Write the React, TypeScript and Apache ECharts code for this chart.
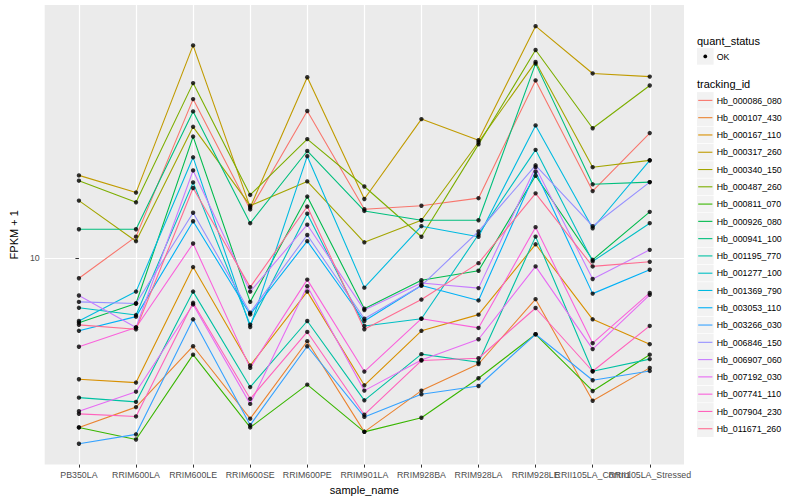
import React, { useEffect, useRef } from "react";
import * as echarts from "echarts";

const categories = [
  "PB350LA", "RRIM600LA", "RRIM600LE", "RRIM600SE", "RRIM600PE", "RRIM901LA",
  "RRIM928BA", "RRIM928LA", "RRIM928LE", "RRII105LA_Control", "RRII105LA_Stressed",
];

const Hb_000086_080 = [8.56, 11.81, 34.2, 14.57, 31.2, 14.6, 14.99, 15.9, 39.5, 16.8, 26.3];
const Hb_000107_430 = [2.7, 3.16, 5.06, 2.89, 5.26, 2.61, 3.59, 4.41, 7.28, 3.32, 4.28];
const Hb_000167_110 = [3.92, 3.82, 9.33, 4.36, 7.72, 3.74, 5.7, 6.46, 11.13, 6.23, 5.14];
const Hb_000317_260 = [18.96, 16.6, 51.8, 14.8, 40.5, 15.8, 29.3, 24.9, 60.1, 41.7, 40.7];
const Hb_000340_150 = [15.6, 11.4, 27.6, 15.0, 18.1, 11.3, 13.4, 24.5, 45.6, 20.2, 21.3];
const Hb_000487_260 = [18.2, 15.4, 38.7, 16.3, 25.1, 17.4, 11.8, 24.1, 50.0, 27.3, 38.0];
const Hb_000811_070 = [2.7, 2.46, 4.74, 2.7, 3.76, 2.61, 2.91, 3.95, 5.55, 3.58, 4.74];
const Hb_000926_080 = [6.07, 7.04, 25.6, 7.13, 16.1, 6.76, 8.43, 9.07, 18.9, 9.87, 14.3];
const Hb_000941_100 = [12.5, 12.5, 31.1, 13.1, 22.9, 14.4, 13.4, 13.4, 45.0, 17.7, 18.0];
const Hb_001195_770 = [3.4, 3.29, 7.72, 3.69, 6.15, 3.33, 4.76, 4.47, 11.81, 4.17, 4.58];
const Hb_001277_100 = [6.81, 6.44, 17.96, 5.98, 14.1, 5.92, 6.26, 12.0, 23.1, 9.75, 13.1];
const Hb_001369_790 = [6.15, 7.72, 21.8, 5.87, 22.0, 7.96, 12.8, 11.8, 27.9, 12.6, 21.3];
const Hb_003053_110 = [5.7, 6.36, 13.3, 6.47, 11.4, 6.15, 8.09, 7.21, 19.5, 7.6, 9.14];
const Hb_003266_030 = [2.38, 2.56, 6.23, 2.75, 5.06, 2.93, 3.49, 3.72, 5.55, 3.89, 4.18];
const Hb_006846_150 = [7.13, 7.04, 14.2, 6.56, 11.96, 6.26, 8.09, 12.3, 20.5, 12.8, 18.0];
const Hb_006907_060 = [7.49, 5.85, 19.7, 7.72, 12.95, 6.69, 8.25, 7.93, 20.2, 8.51, 10.66];
const Hb_007192_030 = [3.06, 3.56, 6.99, 3.24, 8.05, 3.59, 4.55, 5.34, 9.38, 4.95, 7.53];
const Hb_007741_110 = [5.04, 5.85, 11.2, 4.28, 8.47, 4.16, 6.26, 5.83, 12.7, 5.18, 7.64];
const Hb_007904_230 = [3.0, 2.94, 7.08, 3.37, 5.65, 2.98, 4.53, 4.61, 6.8, 4.17, 5.92];
const Hb_011671_260 = [5.97, 5.77, 17.2, 7.99, 14.9, 5.77, 7.26, 9.62, 16.5, 9.38, 9.72];

const trackingIds = [
  "Hb_000086_080", "Hb_000107_430", "Hb_000167_110", "Hb_000317_260", "Hb_000340_150",
  "Hb_000487_260", "Hb_000811_070", "Hb_000926_080", "Hb_000941_100", "Hb_001195_770",
  "Hb_001277_100", "Hb_001369_790", "Hb_003053_110", "Hb_003266_030", "Hb_006846_150",
  "Hb_006907_060", "Hb_007192_030", "Hb_007741_110", "Hb_007904_230", "Hb_011671_260",
];

const seriesValues = [
  Hb_000086_080, Hb_000107_430, Hb_000167_110, Hb_000317_260, Hb_000340_150,
  Hb_000487_260, Hb_000811_070, Hb_000926_080, Hb_000941_100, Hb_001195_770,
  Hb_001277_100, Hb_001369_790, Hb_003053_110, Hb_003266_030, Hb_006846_150,
  Hb_006907_060, Hb_007192_030, Hb_007741_110, Hb_007904_230, Hb_011671_260,
];

const quantStatus = ["OK"];
const yTickValues = [10];
const yRange = [2.026, 70.8];

const palette = [
  "#F8766D", "#EA8331", "#D89000", "#C09B00", "#A3A500", "#7CAE00", "#39B600",
  "#00BB4E", "#00BF7D", "#00C1A3", "#00BFC4", "#00BAE0", "#00B0F6", "#35A2FF",
  "#9590FF", "#C77CFF", "#E76BF3", "#FA62DB", "#FF62BC", "#FF6C91",
];

const FONT = "'Liberation Sans', Arial, Helvetica, sans-serif";

export default function App() {
  const ref = useRef<HTMLDivElement>(null);

  useEffect(() => {
    if (!ref.current) return;
    const chart = echarts.init(ref.current, null, { renderer: "svg" });

    const lineSeries = trackingIds.map((id, i) => ({
      name: id,
      type: "line",
      data: seriesValues[i].map((v, j) => [j, v]),
      symbol: "none",
      showSymbol: false,
      silent: true,
      z: 2,
      lineStyle: { color: palette[i], width: 1.1 },
      itemStyle: { color: palette[i] },
    }));

    const points: number[][] = [];
    seriesValues.forEach((arr) => arr.forEach((v, j) => points.push([j, v])));

    const legendX = 697;
    const keyTop0 = 92.1;
    const step = 17.28;
    const graphics: any[] = [];
    graphics.push({
      type: "text", x: legendX, y: 40.7,
      style: { text: "quant_status", fontSize: 11, fontFamily: FONT, fill: "#000", verticalAlign: "middle" },
    });
    quantStatus.forEach((q, i) => {
      const top = 48.1 + i * step;
      graphics.push({ type: "rect", shape: { x: legendX, y: top, width: 16.6, height: 16.6 }, style: { fill: "#F2F2F2" } });
      graphics.push({ type: "circle", shape: { cx: legendX + 8.3, cy: top + 8.3, r: 1.9 }, style: { fill: "#000" } });
      graphics.push({
        type: "text", x: legendX + 19.7, y: top + 8.5,
        style: { text: q, fontSize: 8.8, fontFamily: FONT, fill: "#000", verticalAlign: "middle" },
      });
    });
    graphics.push({
      type: "text", x: legendX, y: 84.3,
      style: { text: "tracking_id", fontSize: 11, fontFamily: FONT, fill: "#000", verticalAlign: "middle" },
    });
    trackingIds.forEach((id, i) => {
      const top = keyTop0 + i * step;
      graphics.push({ type: "rect", shape: { x: legendX, y: top, width: 16.6, height: 16.6 }, style: { fill: "#F2F2F2" } });
      graphics.push({
        type: "line", shape: { x1: legendX + 1.2, y1: top + 8.3, x2: legendX + 15.4, y2: top + 8.3 },
        style: { stroke: palette[i], lineWidth: 1.1 },
      });
      graphics.push({
        type: "text", x: legendX + 19.7, y: top + 8.5,
        style: { text: id, fontSize: 8.8, fontFamily: FONT, fill: "#000", verticalAlign: "middle" },
      });
    });

    const catIdx = categories.map((_, i) => i);
    const xMax = categories.length - 1 + 0.6;
    // an empty label at the axis end takes the "max label" role so that all category labels stay
    const labelValues = [...catIdx, xMax];

    chart.setOption({
      animation: false,
      textStyle: { fontFamily: FONT },
      grid: {
        left: 35, right: 116, top: 5, bottom: 32,
        show: true, backgroundColor: "#EBEBEB", borderWidth: 0,
      },
      xAxis: {
        type: "value",
        min: -0.6,
        max: xMax,
        name: "sample_name",
        nameLocation: "middle",
        nameGap: 14.5,
        nameTextStyle: { fontSize: 11, color: "#000", fontFamily: FONT },
        axisLine: { show: false },
        axisTick: { show: true, length: 3, customValues: catIdx, lineStyle: { color: "#333333", width: 1 } },
        axisLabel: {
          customValues: labelValues,
          showMaxLabel: false,
          hideOverlap: false,
          margin: 5.5,
          fontSize: 8.8,
          color: "#4D4D4D",
          fontFamily: FONT,
          formatter: (v: number) => (Number.isInteger(v) ? categories[v] ?? "" : ""),
        },
        splitLine: { show: true, lineStyle: { color: "#FFFFFF", width: 1.2 } },
      },
      yAxis: {
        type: "log",
        logBase: 10,
        min: yRange[0],
        max: yRange[1],
        name: "FPKM + 1",
        nameLocation: "middle",
        nameGap: 17,
        nameTextStyle: { fontSize: 11, color: "#000", fontFamily: FONT },
        axisLine: { show: false },
        axisTick: { show: true, length: 3.5, customValues: yTickValues, lineStyle: { color: "#333333", width: 1 } },
        axisLabel: {
          customValues: yTickValues,
          showMinLabel: true,
          showMaxLabel: true,
          margin: 5,
          fontSize: 8.8,
          color: "#4D4D4D",
          fontFamily: FONT,
          formatter: (v: number) => String(v),
        },
        splitLine: { show: true, lineStyle: { color: "#FFFFFF", width: 1.2 } },
        minorSplitLine: { show: false },
      },
      series: [
        ...lineSeries,
        {
          name: "points",
          type: "scatter",
          data: points,
          symbol: "circle",
          symbolSize: 4.4,
          silent: true,
          z: 3,
          itemStyle: { color: "#000000" },
        },
      ],
      graphic: graphics,
    });

    return () => chart.dispose();
  }, []);

  return (
    <div
      ref={ref}
      style={{ position: "absolute", left: 0, top: 0, width: 800, height: 500 }}
    />
  );
}
